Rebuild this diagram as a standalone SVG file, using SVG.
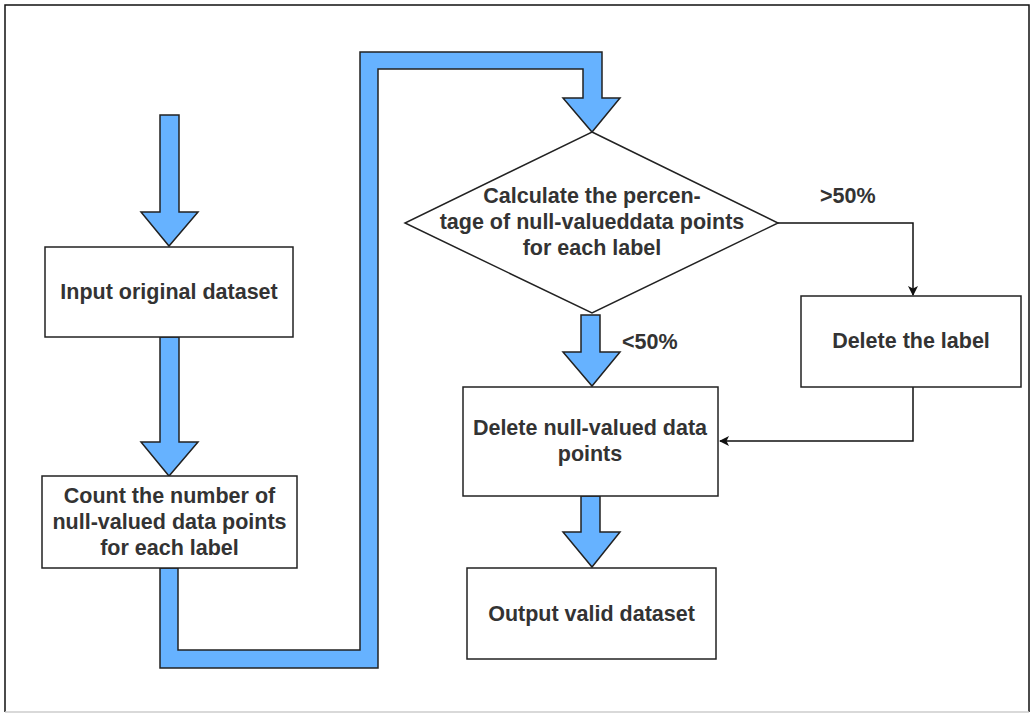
<svg xmlns="http://www.w3.org/2000/svg" width="1034" height="713" viewBox="0 0 1034 713">
<style>
.box{fill:#fff;stroke:#222;stroke-width:1.5}
.big{fill:#66b2ff;stroke:#222;stroke-width:1.5;stroke-linejoin:miter}
.t{font-family:"Liberation Sans",Arial,sans-serif;font-size:21.5px;font-weight:bold;fill:#333;text-anchor:middle}
.l{font-family:"Liberation Sans",Arial,sans-serif;font-size:21.5px;font-weight:bold;fill:#333}
.c{fill:none;stroke:#111;stroke-width:1.5}
</style>
<defs>
<marker id="ah" markerWidth="10" markerHeight="10" refX="9" refY="5" orient="auto" markerUnits="userSpaceOnUse" viewBox="0 0 10 10">
<path d="M0,0 L10,5 L0,10 L2.5,5 Z" fill="#111"/>
</marker>
</defs>
<rect width="1034" height="713" fill="#fff"/>
<path d="M5,712 V5 H1029 V712" fill="none" stroke="#111" stroke-width="1.5"/>
<line x1="5" y1="712" x2="1029" y2="712" stroke="#ccc" stroke-width="1.5"/>

<g id="connectors">
<path class="big" d="M160,115 H179 V212 H198 L169,246 L141,212 H160 Z"/>
<path class="big" d="M160,337 H179 V442 H198 L169,476 L141,442 H160 Z"/>
<path class="big" d="M160,568 V668 H378 V69 H583 V98 H563 L592,132 L620,98 H602 V52 H360 V650 H178 V568 Z"/>
<path class="big" d="M581,315 H600 V352 H620 L592,386 L563,352 H581 Z"/>
<path class="big" d="M581,496 H600 V532 H620 L592,567 L563,532 H581 Z"/>
<path class="c" d="M778,223 H913 V295" marker-end="url(#ah)"/>
<path class="c" d="M913,387 V441 H720" marker-end="url(#ah)"/>
<text class="l" x="820" y="203">&gt;50%</text>
<text class="l" x="622" y="349">&lt;50%</text>
</g>

<g id="input">
<rect class="box" x="45" y="247" width="248" height="90"/>
<text class="t" x="169" y="299">Input original dataset</text>
</g>

<g id="count">
<rect class="box" x="42" y="476" width="255" height="92"/>
<text class="t" x="169.5" y="503">Count the number of</text>
<text class="t" x="169.5" y="529">null-valued data points</text>
<text class="t" x="169.5" y="555">for each label</text>
</g>

<g id="calc">
<path class="box" d="M592,132 L778,223 L592,313 L405,223 Z"/>
<text class="t" x="592" y="203">Calculate the percen-</text>
<text class="t" x="592" y="229">tage of null-valueddata points</text>
<text class="t" x="592" y="255">for each label</text>
</g>

<g id="deletelabel">
<rect class="box" x="801" y="296" width="220" height="91"/>
<text class="t" x="911" y="348">Delete the label</text>
</g>

<g id="deletenull">
<rect class="box" x="463" y="387" width="255" height="109"/>
<text class="t" x="590" y="435">Delete null-valued data</text>
<text class="t" x="590" y="461">points</text>
</g>

<g id="output">
<rect class="box" x="467" y="568" width="249" height="91"/>
<text class="t" x="591.5" y="621">Output valid dataset</text>
</g>
</svg>
